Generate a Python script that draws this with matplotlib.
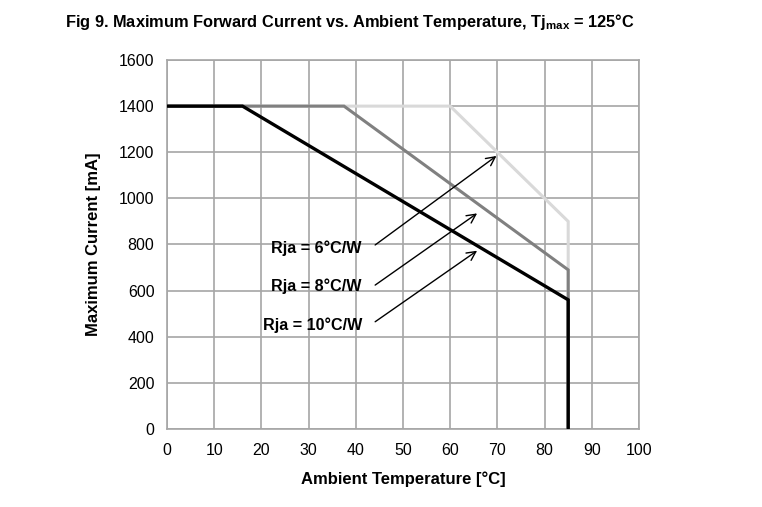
import matplotlib
matplotlib.use("Agg")
import matplotlib.pyplot as plt

plt.rcParams['font.family'] = ['Liberation Sans', 'DejaVu Sans']
plt.rcParams['mathtext.fontset'] = 'custom'
plt.rcParams['mathtext.rm'] = 'Liberation Sans'
plt.rcParams['mathtext.bf'] = 'Liberation Sans:bold'

# Data (Ambient temperature [°C], Max current [mA])
temp_r6 = [0, 60, 85, 85]
curr_r6 = [1400, 1400, 900, 0]
temp_r8 = [0, 37.5, 85, 85]
curr_r8 = [1400, 1400, 690, 0]
temp_r10 = [0, 16, 85, 85]
curr_r10 = [1400, 1400, 560, 0]

labels = ["Rja = 6°C/W", "Rja = 8°C/W", "Rja = 10°C/W"]
label_xy = [(41.3, 785), (41.3, 620), (41.3, 450)]
arrow_tail = [(44.1, 798), (44.1, 624), (44.1, 465)]
arrow_head = [(69.8, 1184), (65.7, 935), (65.7, 773)]

xticks = list(range(0, 101, 10))
yticks = list(range(0, 1601, 200))

fig = plt.figure(figsize=(7.62, 5.07), dpi=100)
ax = fig.add_axes([167/762, 1-429/507, 472/762, 369/507])

ax.plot(temp_r6, curr_r6, color='#d9d9d9', lw=2.2, solid_joinstyle='miter', zorder=3)
ax.plot(temp_r8, curr_r8, color='#808080', lw=2.2, solid_joinstyle='miter', zorder=4)
ax.plot(temp_r10, curr_r10, color='#000000', lw=2.4, solid_joinstyle='miter', zorder=5)

for lab, lxy, tail, head in zip(labels, label_xy, arrow_tail, arrow_head):
    ax.text(lxy[0], lxy[1], lab, ha='right', va='center', fontsize=11.6,
            fontweight='bold', zorder=6)
    ax.annotate('', xy=head, xytext=tail,
                arrowprops=dict(arrowstyle='->', color='black', lw=1.0,
                                mutation_scale=16, shrinkA=0, shrinkB=0), zorder=6)

ax.set_xlim(0, 100)
ax.set_ylim(0, 1600)
ax.set_xticks(xticks)
ax.set_yticks(yticks)
ax.grid(True, color='#a6a6a6', lw=1.2)
ax.set_axisbelow(True)
for s in ax.spines.values():
    s.set_color('#a6a6a6')
    s.set_linewidth(1.2)
ax.tick_params(length=0, labelsize=11.5, pad=10)
ax.tick_params(axis='y', pad=9)

ax.set_xlabel('Ambient Temperature [°C]', fontsize=12, fontweight='bold', labelpad=10)
ax.set_ylabel('Maximum Current [mA]', fontsize=12, fontweight='bold', labelpad=13)

fig.text(65/762, 1-22/507, r"Fig 9. Maximum Forward Current vs. Ambient Temperature, Tj$_{\bf max}$ = 125°C",
         fontsize=11.8, fontweight='bold', ha='left', va='center')

fig.savefig('out.png', dpi=100)
